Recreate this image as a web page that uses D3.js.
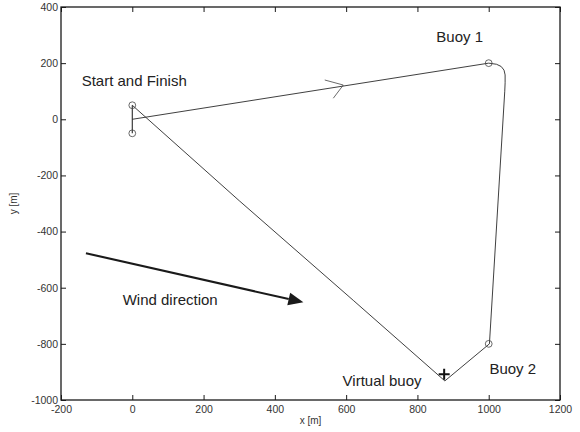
<!DOCTYPE html>
<html>
<head>
<meta charset="utf-8">
<script src="https://cdn.jsdelivr.net/npm/d3@7"></script>
<style>
  html, body { margin: 0; padding: 0; background: #fff; }
  svg { display: block; font-family: Arial, "Liberation Sans", Helvetica, sans-serif; }
</style>
</head>
<body>
<svg id="chart" width="580" height="432"></svg>
<script>
// Axis ticks
const xTicks = [-200, 0, 200, 400, 600, 800, 1000, 1200];
const yTicks = [-1000, -800, -600, -400, -200, 0, 200, 400];

// Sailed track (metres): start, leg to buoy 1, rounding, leg to buoy 2,
// virtual buoy, and the run back to the start/finish line
const trackX = [0, 1000, 1022, 1035, 1043, 1046, 1046, 1045, 1002, 877, 620, 300, 0];
const trackY = [0, 200, 196, 188, 175, 158, 130, 100, -800, -932, -645, -290, 50];

// Start/finish line
const lineX = [0, 0];
const lineY = [50, -50];

// Course marks drawn as open circles
const markX = [0, 0, 1000, 1000];
const markY = [50, -50, 200, -800];

// Virtual buoy
const virtualX = [875];
const virtualY = [-908];

// Direction chevron on the first leg
const chevX = [540, 592, 564];
const chevY = [140, 122, 75];

// Wind arrow (tail, tip)
const windX = [-130, 480];
const windY = [-477, -652];

// Annotations
const labels = [
  { text: "Start and Finish", x: -142, y: 120 },
  { text: "Buoy 1", x: 853, y: 274 },
  { text: "Wind direction", x: -27, y: -662 },
  { text: "Virtual buoy", x: 590, y: -951 },
  { text: "Buoy 2", x: 1002, y: -908 }
];

const svg = d3.select("#chart");
const L = 61, R = 560, T = 7, B = 400;
const x = d3.scaleLinear().domain([-200, 1200]).range([L, R]);
const y = d3.scaleLinear().domain([-1000, 400]).range([B, T]);

const dark = "#1a1a1a";
const tickColor = "#333";
const plain = d => String(d);

// Axes with inward ticks on all four sides
const axG = svg.append("g");
function styleAxis(g) {
  g.select(".domain").remove();
  g.selectAll(".tick line").attr("stroke", dark);
  g.selectAll(".tick text").attr("fill", tickColor).style("font-size", "10.5px")
    .style("font-family", "Arial, 'Liberation Sans', sans-serif");
}
axG.append("g").attr("transform", `translate(0,${B})`)
  .call(d3.axisBottom(x).tickValues(xTicks).tickSizeInner(-5).tickSizeOuter(0).tickFormat(plain))
  .call(styleAxis)
  .call(g => g.selectAll(".tick text").attr("dy", "0.71em").attr("y", 6));
axG.append("g").attr("transform", `translate(0,${T})`)
  .call(d3.axisTop(x).tickValues(xTicks).tickSizeInner(-5).tickSizeOuter(0).tickFormat(""))
  .call(styleAxis);
axG.append("g").attr("transform", `translate(${L},0)`)
  .call(d3.axisLeft(y).tickValues(yTicks).tickSizeInner(-5).tickSizeOuter(0).tickFormat(plain))
  .call(styleAxis)
  .call(g => g.selectAll(".tick text").attr("x", -3));
axG.append("g").attr("transform", `translate(${R},0)`)
  .call(d3.axisRight(y).tickValues(yTicks).tickSizeInner(-5).tickSizeOuter(0).tickFormat(""))
  .call(styleAxis);

// Plot box
svg.append("rect").attr("x", L).attr("y", T).attr("width", R - L).attr("height", B - T)
  .attr("fill", "none").attr("stroke", dark).attr("stroke-width", 1.3);

// Axis titles
svg.append("text").attr("x", (L + R) / 2).attr("y", 424).attr("text-anchor", "middle")
  .attr("fill", tickColor).style("font-size", "10px").text("x [m]");
svg.append("text").attr("transform", `translate(17,${(T + B) / 2}) rotate(-90)`)
  .attr("text-anchor", "middle").attr("fill", tickColor).style("font-size", "10px").text("y [m]");

const line = d3.line().x(d => x(d[0])).y(d => y(d[1]));

// Track
const track = trackX.map((v, i) => [v, trackY[i]]);
svg.append("path").attr("d", line(track))
  .attr("fill", "none").attr("stroke", "#2a2a2a").attr("stroke-width", 0.9);

// Start/finish line
svg.append("path").attr("d", line(lineX.map((v, i) => [v, lineY[i]])))
  .attr("fill", "none").attr("stroke", "#2a2a2a").attr("stroke-width", 1.1);

// Chevron
svg.append("path").attr("d", line(chevX.map((v, i) => [v, chevY[i]])))
  .attr("fill", "none").attr("stroke", "#444").attr("stroke-width", 0.8);

// Marks
svg.selectAll("circle.mark").data(markX.map((v, i) => [v, markY[i]])).enter()
  .append("circle").attr("class", "mark")
  .attr("cx", d => x(d[0])).attr("cy", d => y(d[1])).attr("r", 3.4)
  .attr("fill", "none").attr("stroke", "#444").attr("stroke-width", 0.8);

// Virtual buoy cross
virtualX.forEach((v, i) => {
  const cx = x(v), cy = y(virtualY[i]), s = 5.5;
  svg.append("path").attr("d", `M${cx - s},${cy}H${cx + s}M${cx},${cy - s}V${cy + s}`)
    .attr("stroke", "#111").attr("stroke-width", 2);
});

// Wind arrow
{
  const x1 = x(windX[0]), y1 = y(windY[0]), x2 = x(windX[1]), y2 = y(windY[1]);
  const ang = Math.atan2(y2 - y1, x2 - x1);
  const hl = 15, hw = 6.5;
  const bx = x2 - hl * Math.cos(ang), by = y2 - hl * Math.sin(ang);
  svg.append("line").attr("x1", x1).attr("y1", y1).attr("x2", bx).attr("y2", by)
    .attr("stroke", "#1a1a1a").attr("stroke-width", 2);
  const px = -Math.sin(ang), py = Math.cos(ang);
  svg.append("path")
    .attr("d", `M${x2},${y2}L${bx + hw * px},${by + hw * py}L${bx - hw * px},${by - hw * py}Z`)
    .attr("fill", "#1a1a1a");
}

// Labels
svg.selectAll("text.lbl").data(labels).enter().append("text").attr("class", "lbl")
  .attr("x", d => x(d.x)).attr("y", d => y(d.y))
  .attr("fill", "#222").style("font-size", "15px").text(d => d.text);
</script>
</body>
</html>
